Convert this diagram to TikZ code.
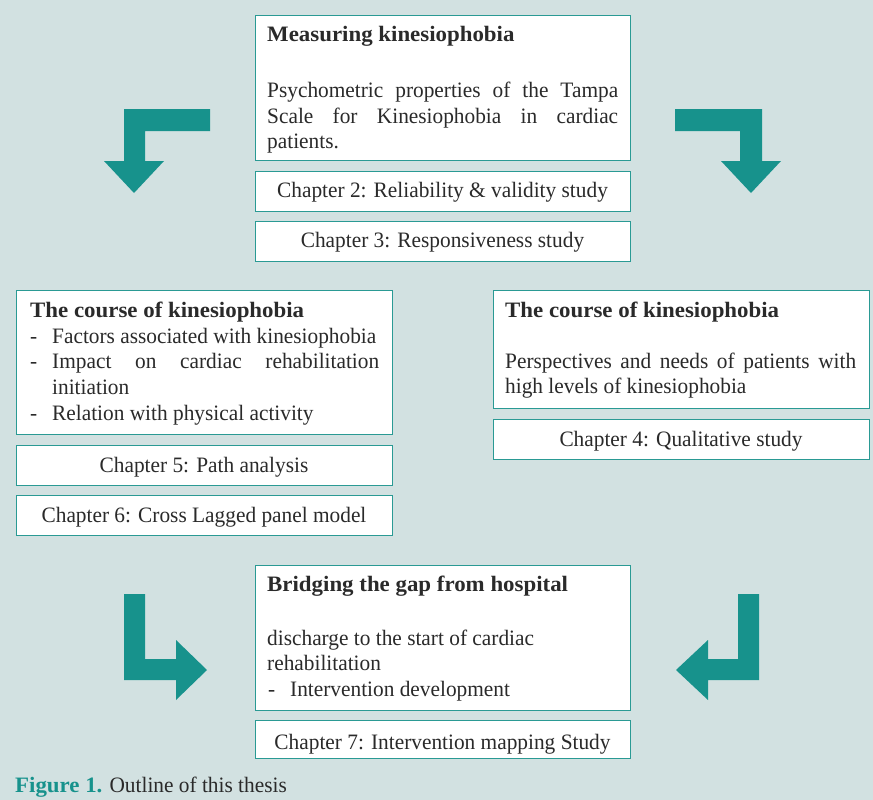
\documentclass[tikz,border=0pt]{standalone}
\usepackage{fontspec}
\setmainfont{Liberation Serif}[FakeStretch=0.97, BoldFeatures={FakeStretch=1.04}]
\definecolor{bgcol}{HTML}{D2E1E1}
\definecolor{tealmain}{HTML}{17928C}
\definecolor{tealline}{HTML}{2A9A94}
\definecolor{ink}{HTML}{2A2A2A}
\newcommand\bodysize{\fontsize{22}{26}\selectfont}
\newcommand\jline[2]{\makebox[#1][s]{#2}}
\begin{document}
\begin{tikzpicture}[x=1pt,y=-1pt,
  panel/.style={draw=tealline, line width=1.3pt, fill=white, anchor=north west, inner sep=0pt},
  txt/.style={anchor=base west, inner sep=0pt, text=ink, font=\bodysize},
  ctxt/.style={anchor=base, inner sep=0pt, text=ink, font=\bodysize},
  bendarrow/.style={fill=tealmain, draw=none}]
% background
\fill[bgcol] (0,0) rectangle (873,800);
\useasboundingbox (0,0) rectangle (873,800);

% ---- panels ----
\node[panel, minimum width=375pt, minimum height=145pt] (measure) at (255,15) {};
\node[panel, minimum width=375pt, minimum height=40pt] (ch2) at (255,170.5) {};
\node[panel, minimum width=375pt, minimum height=40pt] (ch3) at (255,220.5) {};

\node[panel, minimum width=376pt, minimum height=144pt] (courseL) at (16,290) {};
\node[panel, minimum width=376pt, minimum height=40pt] (ch5) at (16,445) {};
\node[panel, minimum width=376pt, minimum height=40pt] (ch6) at (16,495) {};

\node[panel, minimum width=376pt, minimum height=118pt] (courseR) at (493,290) {};
\node[panel, minimum width=376pt, minimum height=40pt] (ch4) at (493,418.5) {};

\node[panel, minimum width=375pt, minimum height=145pt] (bridge) at (255,565) {};
\node[panel, minimum width=375pt, minimum height=38pt] (ch7) at (255,720) {};

% ---- texts: measuring ----
\node[txt] (mHead) at (267,42) {\bfseries Measuring kinesiophobia};
\node[txt] (m1) at (267,97.7) {\jline{351pt}{Psychometric properties of the Tampa}};
\node[txt] (m2) at (267,123) {\jline{351pt}{Scale for Kinesiophobia in cardiac}};
\node[txt] (m3) at (267,148) {patients.};
\node[ctxt] (t2) at (442.5,197.5) {Chapter 2: Reliability \& validity study};
\node[ctxt] (t3) at (442.5,247.5) {Chapter 3: Responsiveness study};

% ---- texts: course (left) ----
\node[txt] (lHead) at (30,317) {\bfseries The course of kinesiophobia};
\node[txt] (lD1) at (30,343) {-};
\node[txt] (l1) at (52,343) {Factors associated with kinesiophobia};
\node[txt] (lD2) at (30,368.5) {-};
\node[txt] (l2) at (52,368.5) {\jline{327pt}{Impact on cardiac rehabilitation}};
\node[txt] (l3) at (52,394) {initiation};
\node[txt] (lD3) at (30,420) {-};
\node[txt] (l4) at (52,420) {Relation with physical activity};
\node[ctxt] (t5) at (204,472) {Chapter 5: Path analysis};
\node[ctxt] (t6) at (204,522) {Chapter 6: Cross Lagged panel model};

% ---- texts: course (right) ----
\node[txt] (rHead) at (505,317) {\bfseries The course of kinesiophobia};
\node[txt] (r1) at (505,368) {\jline{351pt}{Perspectives and needs of patients with}};
\node[txt] (r2) at (505,393.5) {high levels of kinesiophobia};
\node[ctxt] (t4) at (681,446) {Chapter 4: Qualitative study};

% ---- texts: bridging ----
\node[txt] (bHead) at (267,591) {\bfseries Bridging the gap from hospital};
\node[txt] (b1) at (267,645) {discharge to the start of cardiac};
\node[txt] (b2) at (267,670) {rehabilitation};
\node[txt] (bD) at (268,696) {-};
\node[txt] (b3) at (290,696) {Intervention development};
\node[ctxt] (t7) at (442.5,749) {Chapter 7: Intervention mapping Study};

% ---- caption ----
\node[txt] (cap) at (15,792) {\textcolor{tealmain}{\bfseries Figure 1.} Outline of this thesis};

% ---- bent arrows ----
% top left: from the right, turning down
\fill[bendarrow] (210,109) -- (124,109) -- (124,161) -- (104,161) -- (134,193)
  -- (164,161) -- (145,161) -- (145,131) -- (210,131) -- cycle;
% top right: from the left, turning down
\fill[bendarrow] (675,109) -- (762,109) -- (762,161) -- (781,161) -- (751,193)
  -- (721,161) -- (740,161) -- (740,131) -- (675,131) -- cycle;
% bottom left: down, turning right
\fill[bendarrow] (124,594) -- (145,594) -- (145,659) -- (176,659) -- (176,640)
  -- (207,670) -- (176,700) -- (176,680) -- (124,680) -- cycle;
% bottom right: down, turning left
\fill[bendarrow] (759,594) -- (738,594) -- (738,659) -- (708,659) -- (708,640)
  -- (676,670) -- (708,700) -- (708,680) -- (759,680) -- cycle;
\end{tikzpicture}
\end{document}
